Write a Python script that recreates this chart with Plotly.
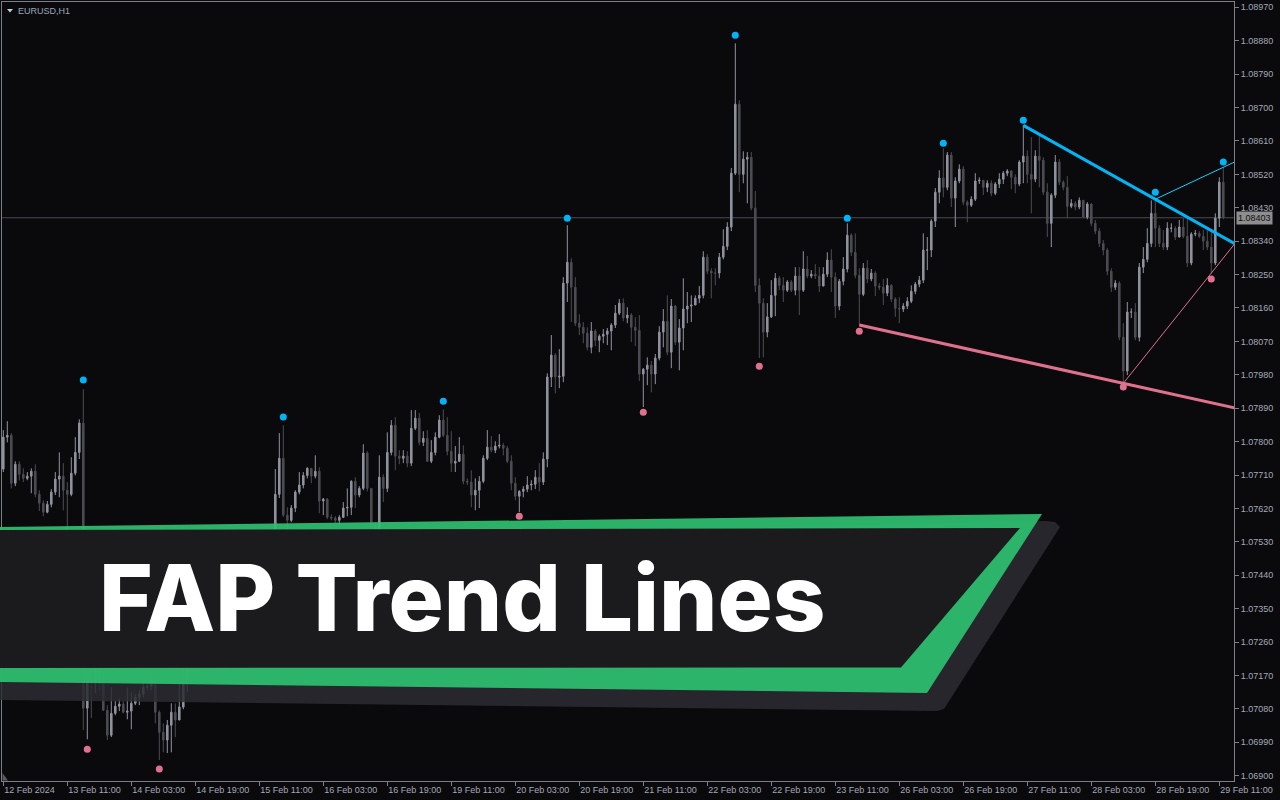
import plotly.graph_objects as go

# ---------------- data (prices stored as points of 1e-5 above 1.07000) ----------------
BASE = 1.07
OPEN_FIRST = 726
CLOSE = [812,817,688,739,712,701,707,720,658,634,610,631,664,699,707,669,658,715,771,850,
         82,176,157,190,149,76,9,68,87,93,71,74,95,111,120,138,141,157,71,17,
         -4,36,71,50,85,152,190,225,238,217,243,265,252,270,260,276,292,281,303,287,
         314,341,324,359,384,481,454,534,658,755,602,588,621,664,683,709,728,707,720,640,
         645,596,594,588,596,621,623,693,656,674,769,674,575,556,704,674,771,844,761,755,
         761,742,836,863,798,809,747,771,812,858,817,774,742,747,766,693,691,656,669,693,
         755,785,777,788,790,782,747,688,653,666,672,683,685,704,691,753,974,1033,974,976,
         1227,1283,1216,1119,1108,1092,1054,1098,1073,1084,1089,1098,1114,1146,1173,1133,1141,1108,1100,982,
         995,1006,982,1025,1095,1124,1041,1165,1068,1106,1157,1165,1168,1186,1194,1297,1259,1254,1254,1297,
         1326,1378,1523,1709,1520,1561,1566,1429,1221,1173,1095,1136,1194,1240,1221,1208,1230,1208,1246,1208,
         1265,1246,1251,1246,1219,1251,1289,1243,1165,1232,1265,1356,1310,1248,1197,1267,1238,1254,1219,1216,
         1200,1221,1184,1159,1157,1165,1178,1205,1224,1235,1316,1316,1394,1472,1510,1485,1572,1456,1502,1534,
         1445,1437,1453,1502,1504,1485,1496,1469,1494,1507,1523,1529,1512,1494,1553,1569,1520,1507,1569,1558,
         1472,1388,1464,1553,1499,1485,1434,1442,1432,1450,1405,1440,1388,1367,1334,1316,1259,1216,1227,1081,
         990,1149,1149,1081,1270,1291,1334,1415,1375,1334,1324,1375,1375,1351,1378,1353,1281,1359,1361,1353,
         1340,1324,1281,1402,1499,1403]
HIGH = [831,855,823,747,747,728,718,728,739,669,642,640,672,718,771,742,691,758,812,860,
        941,184,187,206,198,176,90,138,103,109,103,138,125,120,130,157,146,179,176,76,
        41,50,95,95,157,184,198,243,265,252,260,287,276,287,281,292,308,303,319,314,
        330,357,362,378,405,502,513,548,726,823,844,623,629,669,718,718,731,712,763,731,
        648,648,604,599,602,637,674,696,704,680,793,774,674,583,763,712,825,858,866,777,
        777,774,885,885,877,828,831,804,825,871,887,866,828,788,812,790,701,723,701,707,
        763,831,815,801,820,796,788,763,704,669,680,707,696,723,742,771,984,1087,1038,1049,
        1243,1383,1294,1243,1143,1122,1108,1122,1103,1089,1103,1106,1119,1168,1184,1186,1162,1146,1135,1141,
        998,1027,1017,1036,1111,1157,1194,1184,1168,1130,1240,1203,1194,1194,1219,1313,1305,1267,1267,1308,
        1372,1391,1537,1873,1720,1582,1580,1580,1475,1240,1186,1173,1235,1254,1246,1243,1235,1235,1270,1270,
        1313,1300,1262,1278,1270,1270,1310,1318,1256,1238,1297,1388,1361,1361,1267,1281,1289,1265,1259,1227,
        1238,1240,1224,1189,1189,1173,1189,1221,1230,1246,1361,1351,1399,1483,1531,1590,1580,1580,1512,1547,
        1542,1450,1461,1523,1512,1494,1504,1504,1499,1523,1529,1534,1531,1520,1558,1652,1585,1620,1585,1626,
        1566,1496,1469,1572,1561,1504,1515,1453,1448,1458,1450,1445,1442,1397,1375,1343,1321,1267,1235,1232,
        1119,1176,1159,1173,1281,1324,1375,1450,1453,1383,1370,1391,1388,1380,1397,1402,1402,1364,1370,1367,
        1370,1370,1364,1415,1512,1539]
LOW = [718,798,674,680,696,691,696,661,650,613,599,607,623,656,650,615,561,653,709,753,
       23,-2,55,122,130,74,-4,4,63,74,68,52,25,90,90,111,130,130,41,-58,
       -37,-39,-37,4,50,79,125,200,211,200,206,233,238,238,243,249,265,260,270,265,
       276,303,308,314,346,373,413,440,521,648,597,561,583,610,658,674,701,688,701,607,
       602,591,588,580,578,594,599,602,621,650,669,666,561,540,548,637,664,763,723,739,
       742,731,734,831,790,788,745,742,763,809,812,763,718,718,745,685,683,623,615,621,
       688,750,771,769,782,763,742,669,642,610,650,664,669,672,666,683,731,947,930,944,
       960,1176,1122,1111,1087,1065,1046,1038,1057,1041,1065,1060,1046,1106,1141,1124,1119,1068,1057,963,
       893,952,933,955,1019,1054,1033,998,1060,992,1046,1119,1122,1168,1173,1186,1251,1186,1221,1240,
       1291,1316,1367,1518,1472,1496,1442,1423,1203,1025,1027,1081,1133,1138,1208,1176,1203,1203,1194,1141,
       1203,1240,1240,1238,1203,1219,1243,1203,1133,1154,1221,1256,1300,1240,1114,1192,1227,1232,1192,1208,
       1168,1192,1176,1136,1119,1149,1157,1173,1197,1216,1227,1262,1297,1378,1442,1458,1477,1432,1378,1496,
       1437,1391,1432,1448,1494,1464,1472,1461,1464,1483,1494,1515,1480,1469,1488,1496,1496,1415,1499,1485,
       1464,1351,1324,1456,1491,1477,1402,1429,1423,1426,1402,1399,1380,1359,1324,1302,1248,1203,1208,1073,
       957,979,1133,1073,1070,1254,1283,1324,1324,1324,1316,1316,1364,1343,1361,1348,1270,1275,1353,1348,
       1316,1316,1254,1275,1378,1399]

# fractal points (bar index, marker price in points)
UP_IDX = [20, 70, 110, 141, 183, 211, 235, 255, 288, 305]
UP_VAL = [966, 866, 909, 1402, 1895, 1402, 1604, 1666, 1472, 1553]
DN_IDX = [21, 39, 129, 160, 189, 214, 280, 302]
DN_VAL = [-29, -82, 599, 879, 1003, 1097, 947, 1238]

# trend lines: (from bar, through bar, anchored on)
TL_FROM = [255, 288, 214, 280]
TL_TO = [288, 305, 280, 302]
TL_SIDE = ["high", "high", "low", "low"]
TL_COLOR = ["#00b4f5", "#12d2ff", "#e0718e", "#e0718e"]
TL_WIDTH = [3, 1, 3, 1]

CURRENT_PRICE = "1.08403"

X_TICK_IDX = [0, 16, 32, 48, 64, 80, 96, 112, 128, 144, 160, 176, 192, 208, 224, 240, 256, 272, 288, 304]
X_TICK_TEXT = ["12 Feb 2024", "13 Feb 11:00", "14 Feb 03:00", "14 Feb 19:00", "15 Feb 11:00",
               "16 Feb 03:00", "16 Feb 19:00", "19 Feb 11:00", "20 Feb 03:00", "20 Feb 19:00",
               "21 Feb 11:00", "22 Feb 03:00", "22 Feb 19:00", "23 Feb 11:00", "26 Feb 03:00",
               "26 Feb 19:00", "27 Feb 11:00", "28 Feb 03:00", "28 Feb 19:00", "29 Feb 11:00"]
Y_TICK_TEXT = ["1.06900", "1.06990", "1.07080", "1.07170", "1.07260", "1.07350", "1.07440", "1.07530",
               "1.07620", "1.07710", "1.07800", "1.07890", "1.07980", "1.08070", "1.08160", "1.08250",
               "1.08340", "1.08430", "1.08520", "1.08610", "1.08700", "1.08790", "1.08880", "1.08970"]

TITLE = "EURUSD,H1"
BANNER = "FAP Trend Lines"

# ---------------- build ----------------
def p(v):
    return BASE + v * 1e-5

n = len(CLOSE)
xs = list(range(n))
opens = [OPEN_FIRST] + CLOSE[:-1]
close_p = [p(v) for v in CLOSE]
open_p = [p(v) for v in opens]
high_p = [p(max(h, o, c)) for h, o, c in zip(HIGH, opens, CLOSE)]
low_p = [p(min(l, o, c)) for l, o, c in zip(LOW, opens, CLOSE)]

W, H = 1280, 800
ML, MR, MT, MB = 2, 46, 2, 19
PW = W - ML - MR
PH = H - MT - MB
X_RANGE = [-0.325, 307.675]
Y_RANGE = [1.068857, 1.089843]


def px(x):
    return (x - ML) / PW


def py(y):
    return (H - MB - y) / PH


def path(pts):
    s = "M " + " L ".join(f"{px(x):.5f},{py(y):.5f}" for x, y in pts) + " Z"
    return s


BULL = "#92929e"
BEAR = "#4c4c52"
BG = "#0a0a0d"
AXIS = "#7e7e86"
LABEL = "#a3a9b5"

fig = go.Figure()
fig.add_trace(go.Candlestick(
    x=xs, open=open_p, high=high_p, low=low_p, close=close_p,
    increasing=dict(line=dict(color=BULL, width=1), fillcolor=BULL),
    decreasing=dict(line=dict(color=BEAR, width=1), fillcolor=BEAR),
    whiskerwidth=0, hoverinfo="skip", showlegend=False))

for a, b, side, col, wd in zip(TL_FROM, TL_TO, TL_SIDE, TL_COLOR, TL_WIDTH):
    arr = HIGH if side == "high" else LOW
    va, vb = arr[a], arr[b]
    slope = (vb - va) / (b - a)
    xe = X_RANGE[1] + 1
    fig.add_trace(go.Scatter(x=[a, xe], y=[p(va), p(va + slope * (xe - a))], mode="lines",
                             line=dict(color=col, width=wd), hoverinfo="skip", showlegend=False))

fig.add_trace(go.Scatter(x=UP_IDX, y=[p(v) for v in UP_VAL], mode="markers",
                         marker=dict(color="#00b4f5", size=7), hoverinfo="skip", showlegend=False))
fig.add_trace(go.Scatter(x=DN_IDX, y=[p(v) for v in DN_VAL], mode="markers",
                         marker=dict(color="#e0718e", size=7), hoverinfo="skip", showlegend=False))

cur = float(CURRENT_PRICE)
shapes = [
    dict(type="line", xref="paper", yref="y", x0=0, x1=1, y0=cur, y1=cur,
         line=dict(color="#4a4a52", width=1), layer="below"),
    # banner shadow
    dict(type="path", xref="paper", yref="paper",
         path=path([(-5, 545), (1046, 521), (1055, 522), (1060, 527), (944, 709), (937, 711), (-5, 700)]),
         fillcolor="rgba(44,44,50,0.85)", line=dict(width=0), layer="above"),
    # green frame
    dict(type="path", xref="paper", yref="paper",
         path=path([(-5, 527), (1042, 514), (927, 693), (-5, 682)]),
         fillcolor="#2ebf70", opacity=0.93, line=dict(width=0), layer="above"),
    # dark panel
    dict(type="path", xref="paper", yref="paper",
         path=path([(-5, 530), (1020, 528), (901, 667.5), (-5, 668)]),
         fillcolor="#1b1b1d", line=dict(width=0), layer="above"),
    # title triangle
    dict(type="path", xref="paper", yref="paper",
         path=path([(7, 9), (13, 9), (10, 12.5)]),
         fillcolor="#c8ccd4", line=dict(width=0), layer="above"),
    # bottom-left corner mark
    dict(type="path", xref="paper", yref="paper",
         path=path([(2.5, 773), (2.5, 780.5), (8, 780.5)]),
         fillcolor="#5a5a62", line=dict(width=0), layer="above"),
]

annotations = [
    dict(text=BANNER, xref="paper", yref="paper", x=px(97), y=py(597), xanchor="left", yanchor="middle",
         showarrow=False, font=dict(family="Inter", size=92, color="#ffffff", weight=800)),
    dict(text=TITLE, xref="paper", yref="paper", x=px(16), y=py(11), xanchor="left", yanchor="middle",
         showarrow=False, font=dict(family="Liberation Sans", size=9, color="#9aa6ba")),
    dict(text=CURRENT_PRICE, xref="paper", yref="y", x=px(1236), y=cur, xanchor="left", yanchor="middle",
         showarrow=False, bgcolor="#8e8e8e", borderpad=1,
         font=dict(family="Liberation Sans", size=9, color="#101010")),
]

fig.update_layout(
    width=W, height=H, margin=dict(l=ML, r=MR, t=MT, b=MB, pad=0),
    paper_bgcolor=BG, plot_bgcolor=BG, boxgap=0.45,
    shapes=shapes, annotations=annotations, showlegend=False,
    xaxis=dict(range=X_RANGE, rangeslider=dict(visible=False), showgrid=False, zeroline=False,
               tickmode="array", tickvals=X_TICK_IDX, ticktext=X_TICK_TEXT,
               ticks="outside", ticklen=4, tickcolor=AXIS, ticklabelposition="outside right",
               showline=True, linecolor=AXIS, linewidth=1, mirror=True,
               tickfont=dict(family="Liberation Sans", size=9, color=LABEL)),
    yaxis=dict(range=Y_RANGE, side="right", showgrid=False, zeroline=False,
               tickmode="array", tickvals=[float(t) for t in Y_TICK_TEXT], ticktext=Y_TICK_TEXT,
               ticks="outside", ticklen=4, tickcolor=AXIS,
               showline=True, linecolor=AXIS, linewidth=1, mirror=True,
               tickfont=dict(family="Liberation Sans", size=9, color=LABEL)),
)

fig.write_html("out.html", config={"displayModeBar": False},
               post_script="document.body.style.margin='0px';document.body.style.background='#0a0a0d';")
